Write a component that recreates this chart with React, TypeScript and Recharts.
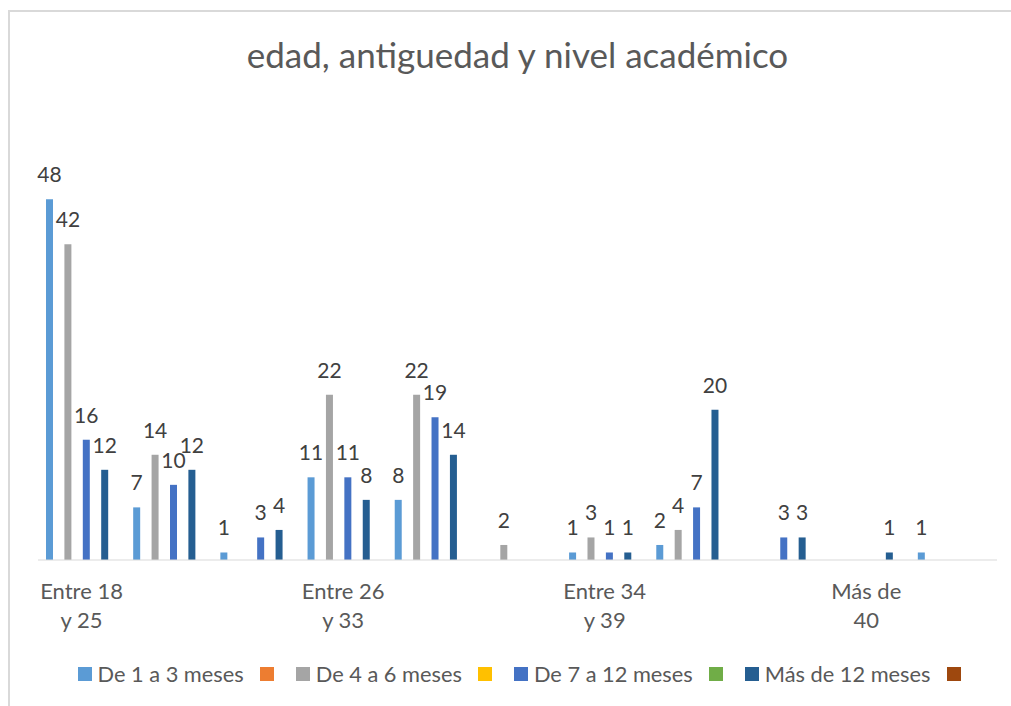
import { BarChart, Bar, XAxis, YAxis, LabelList, Legend } from 'recharts';

// 11 groups on the axis, only every third one carries a label in the original
const categories = [
  'Entre 18\ny 25', '', '',
  'Entre 26\ny 33', '', '',
  'Entre 34\ny 39', '', '',
  'Más de\n40', '',
];

const seriesNames = [
  'De 1 a 3 meses', '', 'De 4 a 6 meses', '',
  'De 7 a 12 meses', '', 'Más de 12 meses', '',
];
const seriesColors = [
  '#5B9BD5', '#ED7D31', '#A5A5A5', '#FFC000',
  '#4472C4', '#70AD47', '#255E91', '#9E480E',
];

const de1a3 = [48, 7, 1, 11, 8, null, 1, 2, null, null, 1];
const naranja = [0, null, null, null, null, null, null, null, null, null, null];
const de4a6 = [42, 14, null, 22, 22, 2, 3, 4, null, null, null];
const amarillo = [0, null, null, null, null, null, null, null, null, null, null];
const de7a12 = [16, 10, 3, 11, 19, null, 1, 7, 3, null, null];
const verde = [null, null, null, null, null, null, null, null, null, null, null];
const mas12 = [12, 12, 4, 8, 14, null, 1, 20, 3, 1, null];
const marron = [null, null, null, null, null, null, null, null, null, null, null];

const seriesValues = [de1a3, naranja, de4a6, amarillo, de7a12, verde, mas12, marron];
const labelled = [true, false, true, false, true, false, true, false];

const data = categories.map((cat, i) => {
  const row: Record<string, string | number | null> = { cat };
  seriesValues.forEach((vals, s) => {
    row['s' + s] = vals[i];
  });
  return row;
});

const FONT = 'Lato, "Open Sans", sans-serif';
const TEXT = '#595959';

const CategoryTick = ({ x, y, payload }: any) => {
  const lines = String(payload.value ?? '').split('\n');
  return (
    <g>
      {lines.map((line, i) => (
        <text
          key={i}
          x={x}
          y={y + 39 + i * 28.7}
          textAnchor="middle"
          fill={TEXT}
          fontSize={22}
          fontFamily={FONT}
        >
          {line}
        </text>
      ))}
    </g>
  );
};

const renderLegend = () => (
  <div
    style={{
      display: 'flex',
      justifyContent: 'center',
      alignItems: 'center',
      fontSize: 21.8,
      lineHeight: '28px',
      color: TEXT,
      fontFamily: FONT,
      paddingLeft: 9,
    }}
  >
    {seriesNames.map((name, i) => (
      <span key={i} style={{ display: 'flex', alignItems: 'center', marginLeft: i ? 16 : 0 }}>
        <span style={{ width: 14, height: 14, background: seriesColors[i], marginRight: 6 }} />
        {name}
      </span>
    ))}
  </div>
);

export default function App() {
  return (
    <div
      style={{
        position: 'fixed',
        top: 0,
        left: 0,
        width: 1011,
        height: 706,
        overflow: 'hidden',
        background: '#fff',
      }}
    >
      <div
        style={{
          position: 'absolute',
          top: 10,
          left: 8,
          width: 1017,
          borderTop: '2px solid #d9d9d9',
          borderLeft: '2px solid #d9d9d9',
          fontFamily: FONT,
        }}
      >
        <div
          style={{
            position: 'absolute',
            top: 25,
            left: 0,
            width: 1015,
            textAlign: 'center',
            fontSize: 35,
            lineHeight: '35px',
            color: TEXT,
            zIndex: 1,
          }}
        >
          edad, antiguedad y nivel académico
        </div>
        <BarChart
          width={1015}
          height={716}
          data={data}
          margin={{ top: 97, right: 28, bottom: 138, left: 28 }}
          barSize={7}
          barGap={2.2}
        >
          <XAxis
            dataKey="cat"
            interval={0}
            tickLine={false}
            tickSize={0}
            tickMargin={0}
            height={30}
            axisLine={{ stroke: '#d9d9d9', strokeWidth: 1 }}
            tick={<CategoryTick />}
          />
          <YAxis hide domain={[0, 60]} />
          <Legend
            layout="horizontal"
            align="center"
            verticalAlign="middle"
            wrapperStyle={{ top: 648, left: 0, width: 1015 }}
            content={renderLegend}
          />
          {seriesValues.map((_, s) => (
            <Bar
              key={s}
              dataKey={'s' + s}
              name={seriesNames[s] || 'serie ' + (s + 1)}
              fill={seriesColors[s]}
              isAnimationActive={false}
            >
              {labelled[s] && (
                <LabelList
                  dataKey={'s' + s}
                  position="top"
                  offset={17}
                  fill="#404040"
                  fontSize={21}
                  fontFamily={FONT}
                />
              )}
            </Bar>
          ))}
        </BarChart>
      </div>
    </div>
  );
}
